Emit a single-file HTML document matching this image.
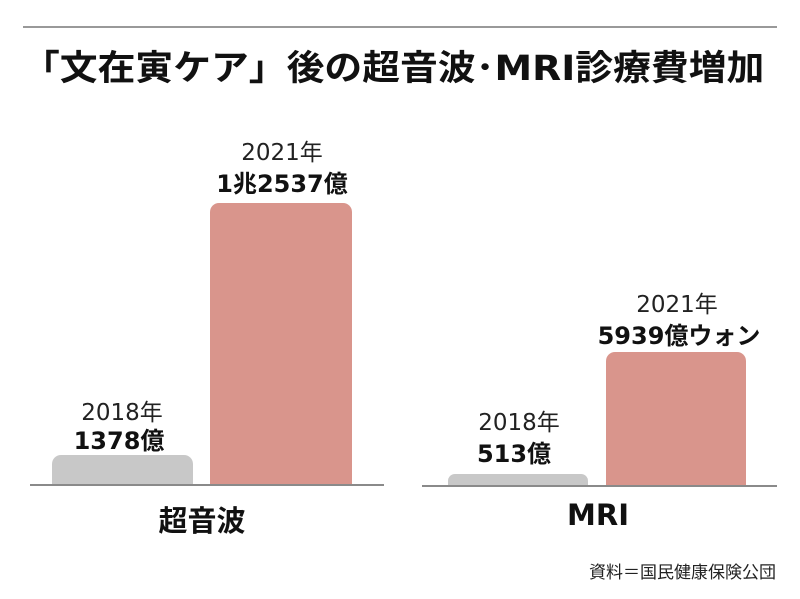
<!DOCTYPE html>
<html><head><meta charset="utf-8"><style>
body{margin:0;width:800px;height:599px;background:#fff;position:relative;overflow:hidden;font-family:"DejaVu Sans","Noto Sans CJK JP",sans-serif;color:#111}
.a{position:absolute;white-space:nowrap}
.c{transform:translateX(-50%);text-align:center}
.y{font-size:23px;font-weight:400;color:#222}
.v{font-size:24px;font-weight:700}
.bar{position:absolute;border-radius:9px 9px 0 0}
.g{background:#c8c8c8}
.r{background:#d9958c}
.line{position:absolute;height:2px;background:#8a8a8a}
</style></head><body>
<div class="line" style="left:23px;top:26px;width:754px;height:2px;background:#999"></div>
<div class="a" style="left:22px;top:40px;font-size:35px;font-weight:700;transform-origin:0 0;transform:scaleX(1.08)">「文在寅ケア」後の超音波･MRI診療費増加</div>

<div class="bar g" style="left:52px;top:455px;width:141px;height:30px"></div>
<div class="bar r" style="left:210px;top:203px;width:142px;height:282px"></div>
<div class="line" style="left:30px;top:484px;width:354px"></div>
<div class="a c y" style="left:122px;top:393px">2018年</div>
<div class="a c v" style="left:119px;top:421px">1378億</div>
<div class="a c y" style="left:282px;top:133px">2021年</div>
<div class="a c v" style="left:282px;top:164px">1兆2537億</div>
<div class="a c" style="left:202px;top:498px;font-size:29px;font-weight:700">超音波</div>

<div class="bar g" style="left:448px;top:474px;width:140px;height:11px;border-radius:7px 7px 0 0"></div>
<div class="bar r" style="left:606px;top:352px;width:140px;height:133px"></div>
<div class="line" style="left:422px;top:485px;width:355px"></div>
<div class="a c y" style="left:519px;top:403px">2018年</div>
<div class="a c v" style="left:514px;top:434px">513億</div>
<div class="a c y" style="left:677px;top:285px">2021年</div>
<div class="a c v" style="left:679px;top:316px">5939億ウォン</div>
<div class="a c" style="left:598px;top:498px;font-size:29px;font-weight:700">MRI</div>

<div class="a" style="right:24px;top:558px;font-size:17px;color:#222">資料＝国民健康保険公団</div>
</body></html>
